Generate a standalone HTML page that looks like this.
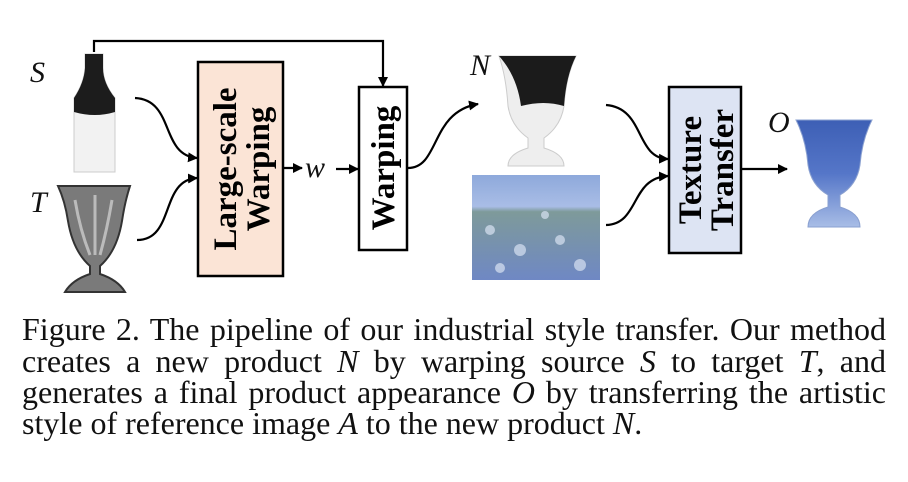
<!DOCTYPE html>
<html><head><meta charset="utf-8"><style>
body{margin:0;background:#fff;width:908px;height:482px;overflow:hidden;position:relative;}
.cap{position:absolute;left:22px;width:864px;font-family:"Liberation Serif",serif;font-size:32px;color:#111;text-align:justify;text-align-last:justify;white-space:nowrap;line-height:32px;}
.cap i{font-style:italic;}
</style></head><body>
<svg width="908" height="300" style="position:absolute;left:0;top:0" xmlns="http://www.w3.org/2000/svg">
<defs>
<marker id="ah" markerWidth="10" markerHeight="10" refX="9" refY="5" orient="auto" markerUnits="userSpaceOnUse"><path d="M0,0 L10,5 L0,10 z" fill="#000"/></marker>
<linearGradient id="bl" x1="0" y1="0" x2="0" y2="1"><stop offset="0" stop-color="#3d5fb5"/><stop offset="0.5" stop-color="#5576c8"/><stop offset="1" stop-color="#a8bde6"/></linearGradient>
<linearGradient id="sky" x1="0" y1="0" x2="0" y2="1"><stop offset="0" stop-color="#8ea9db"/><stop offset="0.3" stop-color="#a9bde6"/><stop offset="0.35" stop-color="#7e9a9a"/><stop offset="1" stop-color="#6f88c4"/></linearGradient>
</defs>
<rect x="0" y="0" width="908" height="300" fill="#fff"/>
<g font-family="Liberation Serif,serif" font-style="italic" font-size="30" fill="#111">
<text x="30" y="82">S</text><text x="30" y="212">T</text>
<text x="470" y="75">N</text><text x="474" y="204">A</text>
<text x="768" y="132">O</text><text x="305" y="177">w</text>
</g>
<path d="M85,54 h18 v14 q0,15 12,30 v74 h-41 v-74 q10,-15 11,-30z" fill="#f2f2f2" stroke="#ccc"/>
<path d="M85,54 h18 v14 q0,15 12,30 v14 q-20,6 -41,0 v-14 q10,-15 11,-30z" fill="#1c1c1c"/>
<path d="M58,186 h72 q-5,15 -8,35 q-5,30 -22,45 v8 q18,6 25,18 h-60 q7,-12 25,-18 v-8 q-17,-15 -22,-45 q-3,-20 -10,-35z" fill="#7a7a7a" stroke="#333" stroke-width="2"/>
<path d="M75,200 q5,30 15,55 M95,195 v60 M112,200 q-5,30 -12,55" stroke="#bbb" stroke-width="3" fill="none"/>
<path d="M499,56 h77 q-10,20 -12,50 q-3,20 -20,32 v10 q20,6 20,18 h-56 q0,-12 20,-18 v-10 q-17,-12 -20,-32 q-2,-30 -9,-50z" fill="#eeeeee" stroke="#ccc"/>
<path d="M499,56 h77 q-10,20 -12,50 q-20,-6 -43,0 q-4,-30 -22,-50z" fill="#1b1b1b"/>
<rect x="472" y="175" width="128" height="105" fill="url(#sky)"/>
<g fill="#d8e2f2" opacity="0.7"><circle cx="490" cy="230" r="5"/><circle cx="520" cy="250" r="6"/><circle cx="560" cy="240" r="5"/><circle cx="580" cy="265" r="6"/><circle cx="500" cy="268" r="5"/><circle cx="545" cy="215" r="4"/></g>
<path d="M796,120 h76 q-10,20 -12,45 q-3,20 -20,30 v12 q20,6 20,20 h-52 q0,-14 20,-20 v-12 q-17,-10 -20,-30 q-2,-25 -12,-45z" fill="url(#bl)" stroke="#8aa0d0"/>
<rect x="198" y="62" width="85" height="214" fill="#fbe4d6" stroke="#000" stroke-width="2.5"/>
<rect x="359" y="87" width="48" height="163" fill="#fff" stroke="#000" stroke-width="2.5"/>
<rect x="669" y="87" width="72" height="166" fill="#dde4f3" stroke="#000" stroke-width="2.5"/>
<g font-family="Liberation Serif,serif" font-weight="bold" font-size="33" fill="#000" text-anchor="middle">
<text transform="translate(225,169) rotate(-90)" y="11">Large-scale</text>
<text transform="translate(258,169) rotate(-90)" y="11">Warping</text>
<text transform="translate(383,168) rotate(-90)" y="11">Warping</text>
<text transform="translate(690,170) rotate(-90)" y="11">Texture</text>
<text transform="translate(722,170) rotate(-90)" y="11">Transfer</text>
</g>
<g stroke="#000" stroke-width="2.2" fill="none">
<path d="M94,52 V41 H383 V86" marker-end="url(#ah)"/>
<path d="M135,98 C175,100 160,155 197,158" marker-end="url(#ah)"/>
<path d="M137,240 C175,240 160,180 197,178" marker-end="url(#ah)"/>
<path d="M284,168 H302" marker-end="url(#ah)"/>
<path d="M336,169 H358" marker-end="url(#ah)"/>
<path d="M408,168 C440,168 430,112 478,104" marker-end="url(#ah)"/>
<path d="M606,105 C645,108 635,158 668,159" marker-end="url(#ah)"/>
<path d="M606,225 C640,224 630,178 668,176" marker-end="url(#ah)"/>
<path d="M742,169 H787" marker-end="url(#ah)"/>
</g>
</svg>
<div class="cap" style="top:313px">Figure 2. The pipeline of our industrial style transfer. Our method</div>
<div class="cap" style="top:345px">creates a new product <i>N</i> by warping source <i>S</i> to target <i>T</i>, and</div>
<div class="cap" style="top:376px">generates a final product appearance <i>O</i> by transferring the artistic</div>
<div class="cap" style="top:407px;text-align-last:left">style of reference image <i>A</i> to the new product <i>N</i>.</div>
</body></html>
